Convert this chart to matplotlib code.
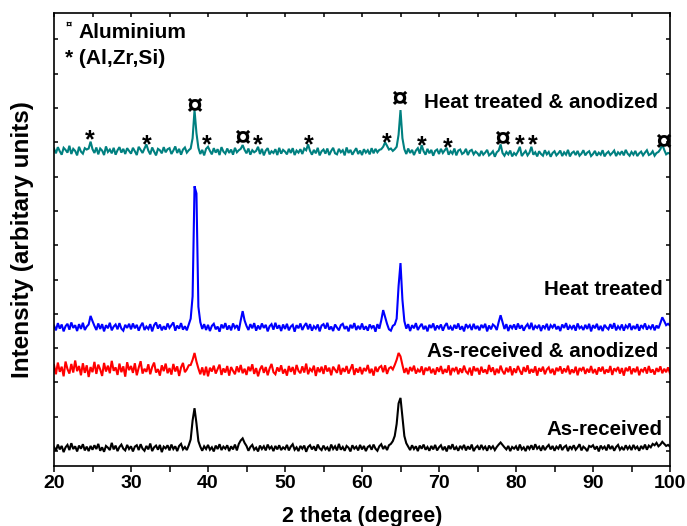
import matplotlib
matplotlib.use("Agg")
import matplotlib.pyplot as plt
from matplotlib import font_manager
import numpy as np

# ---------------- data ----------------
two_theta = [20 + 0.25 * i for i in range(321)]   # 2-theta grid (deg)

as_received = [
    3,-8,10,-4,6,-12,2,9,-6,14,-3,5,-10,7,-2,11,-7,4,-9,6,
    -5,8,-3,12,-8,2,-11,6,1,-6,15,-4,7,-9,3,10,-2,-7,9,-3,
    5,-10,4,8,-6,11,-2,-8,6,-4,13,-9,2,7,-5,9,-12,4,-1,8,
    -7,10,-3,5,-9,6,12,-4,3,-6,8,25,80,116,72,20,4,-8,5,-3,
    9,-5,2,-10,7,-3,11,-6,4,-2,8,-9,5,-4,10,-7,12,22,28,15,
    6,-8,3,9,-5,1,-10,7,-3,5,-7,10,-2,4,-9,6,-4,8,-6,2,
    -3,9,-7,4,11,-5,2,-9,6,-2,7,-11,3,8,-4,5,-8,10,-1,-6,
    7,-4,2,-9,10,-3,5,-7,12,-5,3,-8,6,1,-10,8,-2,4,-7,9,
    -4,6,-9,3,7,-5,10,-2,-8,5,11,-3,6,-6,8,12,20,35,70,130,
    146,90,35,14,4,-6,8,-3,5,-9,7,-2,10,-5,3,-8,6,-4,9,-7,
    2,8,-6,4,-10,7,-3,11,-5,3,-8,6,-2,9,-7,5,-4,10,-9,1,
    6,-5,9,-3,4,-8,7,-2,5,-6,3,10,16,9,2,-4,6,-9,3,-2,
    5,-7,10,-4,2,-9,6,-3,8,-5,11,-2,4,-8,7,-6,3,9,-4,6,
    -8,4,-2,10,-6,3,7,-9,5,-3,8,-5,2,11,-7,4,-1,-9,6,3,
    8,-4,5,-10,7,-2,4,-7,10,-3,6,-8,3,9,-5,2,-6,8,-3,5,
    -6,9,-2,4,-8,6,-3,10,-5,7,2,12,8,15,5,10,18,12,6,9,
    4]

as_received_anodized = [
    15,-12,22,-5,10,-18,25,3,-10,18,-7,28,-3,12,-15,20,-8,14,-20,9,
    -6,24,-11,16,2,-17,21,-4,13,-9,27,-2,8,-14,19,-6,11,-19,23,0,
    12,-8,20,-15,7,26,-10,4,-5,17,-12,9,22,-7,3,-16,14,-3,19,-9,
    6,-13,18,-4,11,-17,8,21,-6,2,14,15,30,50,25,5,-12,8,-15,10,
    -18,7,-4,13,-10,3,16,-14,5,-7,12,-16,9,-2,-12,11,-6,15,-9,4,
    -14,10,-3,17,-11,6,-18,2,13,-8,9,-15,5,18,-6,-12,8,-4,14,-10,
    3,-16,12,-5,9,-13,15,-2,-9,11,-7,19,-12,4,-3,13,-17,8,-6,10,
    -11,14,-4,7,-15,10,1,-8,16,-13,6,-5,12,-10,3,17,-14,5,-7,9,
    -12,6,-3,15,-9,4,-16,10,-5,8,12,-6,14,-11,5,9,2,15,30,50,
    40,15,-8,6,-12,9,-3,13,-10,2,-6,11,-14,7,-2,10,-9,4,-13,8,
    -5,12,-11,3,-7,14,-15,6,-2,9,-12,5,-8,13,-4,-10,7,-16,11,-3,
    6,-13,10,-7,2,-11,15,-5,8,-14,4,-9,13,-3,-12,7,-6,11,-15,5,
    -8,12,-2,-13,9,-5,14,-10,3,-7,11,-16,6,-4,10,-12,2,8,-9,4,
    -14,7,-3,11,-10,5,-6,13,-12,2,-8,10,-15,6,-1,9,-11,4,-7,12,
    -9,3,-13,8,-4,10,-11,2,-7,12,-14,5,-2,9,-10,6,-16,7,-3,11,
    -12,5,-6,10,-15,3,-4,8,-10,12,-7,2,-13,6,-5,11,-9,4,-6,8,
    -10]

heat_treated = [
    5,-9,12,-4,8,-12,3,10,-7,14,-2,6,-11,9,-5,13,-8,2,8,33,
    18,4,-8,11,-5,9,-12,6,-3,13,-9,2,8,-6,12,-4,-10,7,-2,10,
    -6,11,-3,7,-10,4,13,-8,2,-5,9,-12,6,14,-4,8,-9,3,-7,11,
    -2,6,14,-10,5,-4,12,-7,3,-9,8,25,90,411,390,60,15,-5,9,-8,
    7,-11,4,10,-6,2,-13,8,-3,12,-7,5,-9,11,-2,6,-10,20,47,20,
    4,-8,9,-3,12,-10,5,-6,11,-2,7,-12,3,9,-7,13,-4,6,-11,8,
    -5,10,-9,2,7,-13,6,-3,11,-8,4,12,-6,9,-10,3,-4,8,-12,5,
    9,-4,13,-7,2,-11,8,-1,-9,6,10,-5,3,-12,7,-3,12,-8,4,-6,
    11,-7,3,-10,8,-2,5,-13,9,-4,20,50,30,10,-6,-10,4,8,25,120,
    187,80,18,-4,9,-11,6,-3,12,-8,2,10,-6,4,-12,7,-2,11,-9,5,
    -3,8,-10,4,12,-6,2,-9,7,-4,11,-7,3,-12,9,-1,6,-8,10,-5,
    4,-9,7,-2,10,-12,5,-6,8,3,-8,15,35,15,-5,9,-11,6,-3,8,
    -7,11,-4,6,-10,2,9,-5,13,-8,4,-2,7,-11,5,-3,10,-9,6,-1,
    9,-6,3,-11,8,-2,12,-7,4,-4,6,-10,11,-3,2,-8,7,-5,10,-12,
    6,-3,10,-8,4,-11,7,-1,-6,9,-4,12,-9,3,-5,8,-10,5,-2,11,
    -8,4,-5,9,-10,6,-2,11,-7,3,-4,8,-9,5,-3,12,29,18,6,10,
    5]

heat_treated_anodized = [
    10,-4,14,2,-8,12,6,-2,18,-6,9,3,-10,15,1,-5,11,7,10,30,
    8,-3,13,-7,10,4,-9,16,0,7,-4,12,-8,5,14,-2,9,-6,11,3,
    -5,12,2,-9,15,6,-3,10,22,4,-7,13,1,-10,9,5,-4,14,-1,8,
    11,-6,4,16,-3,9,-8,7,13,-2,5,10,40,122,55,12,-6,6,-10,9,
    15,3,-7,11,-2,8,-9,14,1,-5,10,-3,7,-8,12,-1,5,9,20,6,
    -4,10,-8,5,-1,3,15,-6,9,-10,4,11,-7,2,-3,8,-9,12,-5,6,
    1,-7,9,-3,11,-9,4,-2,8,-6,10,5,22,3,-8,6,-4,12,-10,2,
    7,-5,10,-9,3,12,-4,-7,9,-1,5,-10,13,-3,6,-8,2,11,-6,4,
    -9,8,-2,5,-7,11,-4,9,-1,6,8,15,28,18,7,10,3,8,15,50,
    122,40,8,-6,10,-3,6,-9,4,11,-5,20,2,-8,9,-4,6,-11,3,7,
    -6,9,-3,5,12,-8,2,-5,10,-10,4,7,-6,-2,9,-9,3,6,-7,1,
    -4,-12,3,-8,-2,6,-10,-5,2,-14,-1,4,22,-3,-11,0,-7,4,-13,-3,
    -9,1,15,-12,-4,3,-10,-2,15,-8,-1,-13,2,-6,-11,5,-7,0,-14,-3,
    2,-10,-4,4,-12,-1,-8,6,-13,-3,1,-9,3,-11,-5,5,-10,-2,2,-12,
    -6,3,-11,-2,-8,5,-13,-4,1,-9,-3,4,-12,-1,-7,2,-10,6,-5,-11,
    0,-8,3,-12,-4,1,-10,-2,5,-9,-6,2,-11,-3,0,8,22,6,-7,-3,
    -5]

series_names = ["As-received", "As-received & anodized", "Heat treated",
                "Heat treated & anodized"]
series_offsets = [9, 236, 361, 872]
series_colors = ["#000000", "#ff0000", "#0000ff", "#008080"]

# peak identification marks on the top pattern
mark_pos = [24.7, 32.1, 38.2, 39.9, 44.5, 46.5, 53.1, 63.2, 64.9, 67.8,
            71.2, 78.2, 80.5, 82.2, 99.1]
mark_sym = ["*", "*", "¤", "*", "¤", "*", "*", "*", "¤", "*",
            "*", "¤", "*", "*", "¤"]
mark_level = [14, 0, 108, 0, 13, 0, 0, 6, 129, -3, -9, 10, 0, 0, 3]

# ---------------- fonts ----------------
names = {f.name for f in font_manager.fontManager.ttflist}
FONT = "Liberation Sans" if "Liberation Sans" in names else "DejaVu Sans"
plt.rcParams["font.family"] = [FONT, "DejaVu Sans"]
plt.rcParams["font.weight"] = "bold"

# ---------------- figure ----------------
fig = plt.figure(figsize=(6.87, 5.26), dpi=100)
ax = fig.add_axes([54 / 687, 1 - 465.5 / 526, 616 / 687, 452.5 / 526])

x = np.array(two_theta)
data = [as_received, as_received_anodized, heat_treated, heat_treated_anodized]
for vals, off, col in zip(data, series_offsets, series_colors):
    ax.plot(x, np.array(vals) + off, color=col, lw=1.5, solid_joinstyle="miter")

ax.set_xlim(20, 100)
ax.set_ylim(-42, 1277)
ax.set_xticks(range(20, 101, 10))
ax.set_xticks(range(25, 100, 10), minor=True)
ax.set_yticks(range(0, 1201, 100))
ax.set_yticklabels([])
ax.tick_params(axis="x", which="both", direction="out", length=4, width=1.1,
               labelsize=14, pad=3, top=False)
ax.tick_params(axis="y", which="both", direction="in", length=3, width=1.1,
               left=True, right=True)
for lab in ax.get_xticklabels():
    lab.set_fontweight("bold")
# inward ticks along top
axt = ax.secondary_xaxis("top")
axt.set_xticks(range(20, 101, 5))
axt.set_xticklabels([])
axt.tick_params(direction="in", length=3, width=1.1)
axt.spines["top"].set_visible(False)
for s in ax.spines.values():
    s.set_linewidth(1.2)

ax.set_xlabel("2 theta (degree)", fontsize=15.5, fontweight="bold", labelpad=10)
ax.set_ylabel("Intensity (arbitary units)", fontsize=17.5, fontweight="bold",
              labelpad=11)

# curve labels
lab_pos = [(0.987, 0.0785), (0.9805, 0.253), (0.9886, 0.388), (0.9805, 0.803)]
for name, (lx, ly) in zip(series_names, lab_pos):
    ax.text(lx, ly, name, transform=ax.transAxes, ha="right", va="center",
            fontsize=14.8, fontweight="bold")

# legend-like notes
ax.text(0.024, 0.975, "¤", transform=ax.transAxes, ha="center", va="center",
        fontsize=8, fontweight="bold")
ax.text(0.039, 0.958, "Aluminium", transform=ax.transAxes, ha="left",
        va="center", fontsize=15, fontweight="bold")
ax.text(0.0179, 0.90, "* (Al,Zr,Si)", transform=ax.transAxes, ha="left",
        va="center", fontsize=15, fontweight="bold")

# peak marks
for px, sym, lev in zip(mark_pos, mark_sym, mark_level):
    fs = 21 if sym == "¤" else 18
    ax.text(px, series_offsets[3] + lev, sym, ha="center", va="baseline",
            fontsize=fs, fontweight="bold")

fig.savefig("out.png", dpi=100)
